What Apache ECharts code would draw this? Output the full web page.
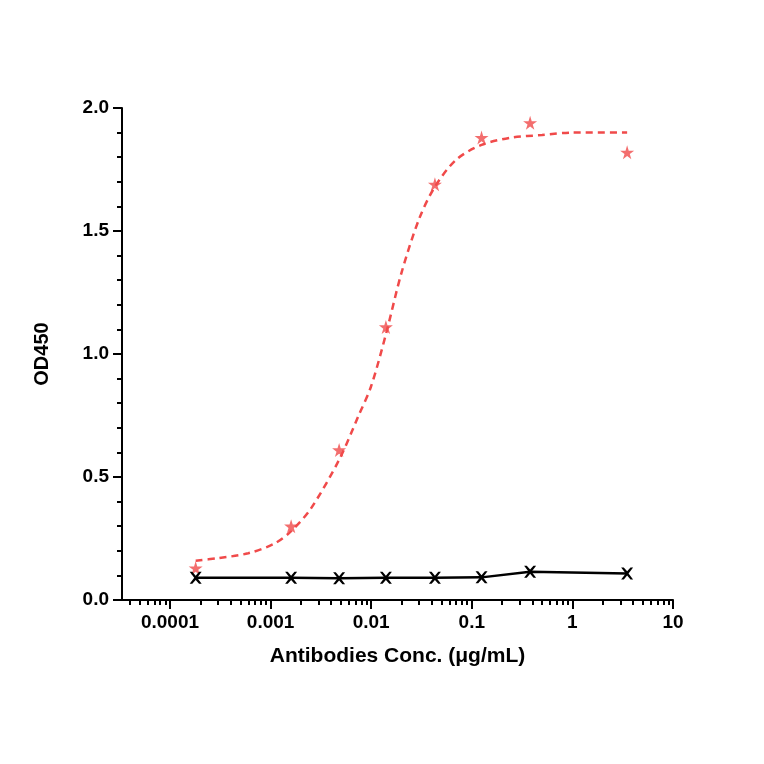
<!DOCTYPE html>
<html><head><meta charset="utf-8">
<script src="https://cdn.jsdelivr.net/npm/echarts@6/dist/echarts.min.js"></script>
<style>body{margin:0}#c{width:764px;height:764px}</style></head>
<body><div id="c"></div>
<script>
// concentrations (µg/mL)
var conc = [0.00018, 0.0016, 0.0048, 0.014, 0.043, 0.125, 0.38, 3.5];
var redOD = [0.13, 0.30, 0.61, 1.11, 1.69, 1.88, 1.94, 1.82];
var blackOD = [0.09, 0.09, 0.088, 0.09, 0.09, 0.092, 0.115, 0.108];
// fitted curve
var fitConc = [0.00018, 0.0003, 0.0006, 0.0011, 0.0016, 0.0025, 0.0048, 0.0075, 0.01, 0.014, 0.02, 0.03, 0.043, 0.07, 0.125, 0.25, 0.5, 1, 3.5];
var fitOD = [0.16, 0.17, 0.19, 0.23, 0.28, 0.37, 0.57, 0.75, 0.87, 1.08, 1.33, 1.55, 1.68, 1.79, 1.85, 1.88, 1.89, 1.9, 1.9];
var majorTicks = [-4, -3, -2, -1, 0, 1];
var tickLabels = ['0.0001', '0.001', '0.01', '0.1', '1', '10'];

var minorTicks = [];
for (var k = -5; k <= 0; k++) {
  for (var m = 2; m <= 9; m++) {
    var v = k + Math.log10(m);
    if (v > -4.477 && v < 1) minorTicks.push(v);
  }
}
function pts(xs, ys) { return xs.map(function (x, i) { return [Math.log10(x), ys[i]]; }); }

var star = 'path://M50,0 L61,35 L98,35 L68,57 L79,91 L50,70 L21,91 L32,57 L2,35 L39,35 Z';
var cross = 'path://M0,0 L22,0 L50,32 L78,0 L100,0 L62,50 L100,100 L78,100 L50,68 L22,100 L0,100 L38,50 Z';
var font = { fontFamily: 'Liberation Sans', fontWeight: 'bold', color: '#000' };

var chart = echarts.init(document.getElementById('c'));
chart.setOption({
  animation: false,
  grid: { left: 122, right: 91, top: 108, bottom: 164 },
  xAxis: [{
    type: 'value', min: -4.477, max: 1,
    axisLine: { onZero: false, lineStyle: { color: '#000', width: 2 } },
    axisTick: { customValues: majorTicks, length: 9, lineStyle: { width: 2, color: '#000' } },
    axisLabel: Object.assign({ customValues: majorTicks, fontSize: 19, margin: 13,
      formatter: function (v) { return tickLabels[majorTicks.indexOf(Math.round(v))]; } }, font),
    splitLine: { show: false },
    name: 'Antibodies Conc. (μg/mL)', nameLocation: 'middle', nameGap: 46,
    nameTextStyle: Object.assign({ fontSize: 21 }, font)
  }, {
    type: 'value', min: -4.477, max: 1, position: 'bottom',
    axisLine: { show: false, onZero: false },
    axisTick: { customValues: minorTicks, length: 5, lineStyle: { width: 2, color: '#000' } },
    axisLabel: { show: false }, splitLine: { show: false }
  }],
  yAxis: {
    type: 'value', min: 0, max: 2, interval: 0.5,
    axisLine: { show: true, onZero: false, lineStyle: { color: '#000', width: 2 } },
    axisTick: { show: true, length: 9, lineStyle: { width: 2, color: '#000' } },
    minorTick: { show: true, splitNumber: 5, length: 5, lineStyle: { width: 2, color: '#000' } },
    axisLabel: Object.assign({ fontSize: 19, margin: 13, formatter: function (v) { return v.toFixed(1); } }, font),
    splitLine: { show: false },
    name: 'OD450', nameLocation: 'middle', nameGap: 70,
    nameTextStyle: Object.assign({ fontSize: 20 }, font)
  },
  series: [{
    type: 'line', data: pts(fitConc, fitOD), smooth: 0.3, showSymbol: false,
    lineStyle: { color: '#f04a4a', width: 2.5, type: [7, 5] }
  }, {
    type: 'scatter', data: pts(conc, redOD), symbol: star, symbolSize: 14,
    itemStyle: { color: '#f04a4a' }
  }, {
    type: 'line', data: pts(conc, blackOD), symbol: cross, symbolSize: 12,
    lineStyle: { color: '#000', width: 2.5 }, itemStyle: { color: '#000' }
  }]
});
</script></body></html>
